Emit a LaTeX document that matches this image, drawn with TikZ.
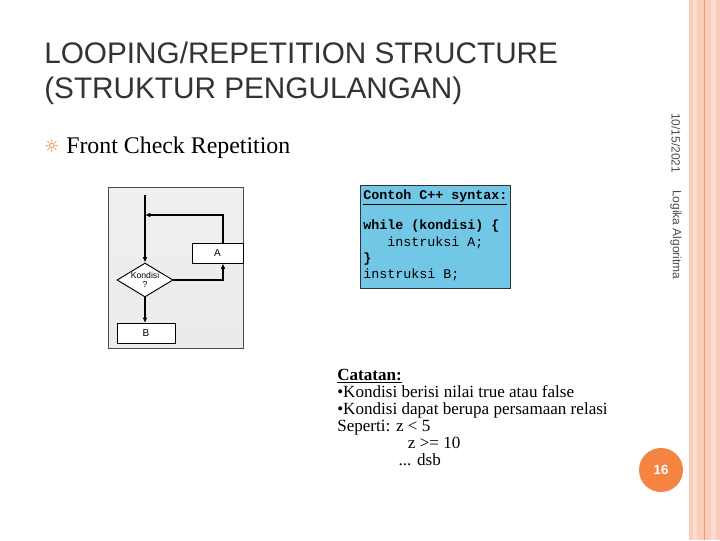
\documentclass[tikz,border=0pt]{standalone}
\usepackage{fontspec}
\setmainfont{Liberation Serif}
\newfontfamily\arial{Liberation Sans}
\newfontfamily\cour{Liberation Mono}
\usetikzlibrary{shapes.geometric,arrows.meta}
\definecolor{pinkA}{HTML}{FACDBB}
\definecolor{pinkL}{HTML}{FBDCCF}
\definecolor{orln}{HTML}{E89A78}
\definecolor{codebg}{HTML}{72C6E6}
\definecolor{circ}{HTML}{F58442}
\begin{document}
\begin{tikzpicture}[x=0.75pt,y=-0.75pt,
  fbox/.style={draw,line width=0.7pt,fill=white,font=\arial\fontsize{7.5}{8}\selectfont,inner sep=0},
  flow/.style={line width=0.9pt,-{Latex[length=4pt,width=3.5pt]}}]
\useasboundingbox (0,0) rectangle (720,540);
\fill[white] (0,0) rectangle (720,540);
% right border
\fill[pinkA] (689,0) rectangle (720,540);
\fill[pinkL] (693,0) rectangle (697,540);
\fill[pinkL] (711,0) rectangle (716,540);
\draw[orln,line width=0.6pt] (704,0) -- (704,540);
% title
\node[anchor=west,font=\arial\fontsize{22.3}{26}\selectfont,text=black!80,align=left,inner sep=0] (title) at (44,73) {LOOPING/REPETITION STRUCTURE\\(STRUKTUR PENGULANGAN)};
% bullet
\node[text=circ,font=\fontsize{13}{13}\selectfont,inner sep=0] (bul) at (52,146) {\fontspec{DejaVu Sans}☼};
\node[anchor=base west,font=\fontsize{17.9}{20}\selectfont,inner sep=0] (fcr) at (66,153) {Front Check Repetition};
% flowchart image
\shade[top color=gray!12,bottom color=blue!6!gray!15,draw=black!70,line width=0.6pt] (108,187) rectangle (243,348);
\node[fbox,minimum width=38.25pt,minimum height=15pt] (A) at (217.5,253) {A};
\node[fbox,diamond,aspect=1.65,minimum width=42pt,minimum height=25.5pt,align=center,font=\arial\fontsize{6.5}{7}\selectfont] (K) at (145,280) {Kondisi\\?};
\node[fbox,minimum width=43.5pt,minimum height=15pt] (B) at (146,333) {B};
\coordinate (top) at (145,195);
\coordinate (rc) at (223,280);
\coordinate (lc) at (223,215);
\draw[flow] (top) -- (K.north);
\draw[flow] (K.east) -- (rc) -- (A.south -| rc);
\draw[flow] (A.north -| lc) -- (lc) -- (145,215);
\draw[flow] (K.south) -- (145,323);
% code box
\node[draw=black!80,line width=0.6pt,fill=codebg,anchor=north west,minimum width=112.5pt,minimum height=77pt,inner sep=0] (code) at (360,185) {};
\node[anchor=north west,font=\cour\fontsize{10}{12.3}\selectfont,align=left,inner sep=0] (codet) at (363,190)
{\textbf{\underline{Contoh C++ syntax:}}\\[10pt]\textbf{while (kondisi) \{}\\\ \ \ instruksi A;\\\textbf{\}}\\instruksi B;};
% notes
\node[anchor=north west,font=\fontsize{12.8}{12.8}\selectfont,align=left,inner sep=0] (note) at (337,369)
{\textbf{\underline{Catatan:}}\\•Kondisi berisi nilai true atau false\\•Kondisi dapat berupa persamaan relasi\\Seperti: z \textless{} 5\\\hspace{53pt}z \textgreater= 10\\\hspace{46pt}... dsb};
% side texts
\node[rotate=-90,anchor=west,font=\arial\fontsize{9}{10}\selectfont,text=black!70,inner sep=0] (date) at (676,113) {10/15/2021};
\node[rotate=-90,anchor=west,font=\arial\fontsize{9}{10}\selectfont,text=black!70,inner sep=0] (logo) at (676,190) {Logika Algoritma};
\node[circle,fill=circ,minimum size=33pt,text=white,font=\arial\bfseries\fontsize{10}{10}\selectfont] (pg) at (661,470) {16};
\end{tikzpicture}
\end{document}
